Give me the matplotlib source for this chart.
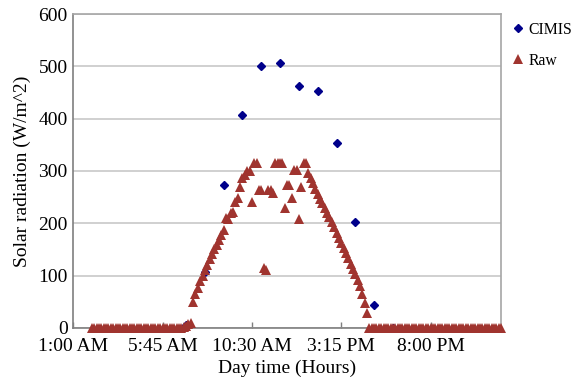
import matplotlib
matplotlib.use('Agg')
import matplotlib.pyplot as plt
import numpy as np

plt.rcParams['font.family'] = ['Liberation Serif', 'DejaVu Serif']

# Hourly CIMIS station readings (hour of day, W/m^2)
cimis_hours = [7, 8, 9, 10, 11, 12, 13, 14, 15, 16, 17, 18]
cimis_values = [5, 107, 274, 407, 501, 506, 463, 452, 354, 202, 44, 0]

# Raw sensor log, one sample every 7.5 minutes starting at 2:00 AM
raw_start_hour = 2.0
raw_step_min = 7.5
raw_values = [
    0, 0, 0, 0, 0, 0, 0, 0, 0, 0, 0, 0, 0, 0, 0, 0, 0, 0, 0, 0,
    0, 0, 0, 0, 0, 0, 0, 0, 0, 0, 0, 0, 0, 0, 0, 0, 0, 0, 0,
    2, 4, 7, 10,
    50, 64, 77, 89, 100, 111, 121, 131, 141, 150, 159, 168, 177, 187,
    210, 208, 219, 222, 241, 248, 270, 286, 292, 299, 299, 241,
    316, 316, 264, 264, 114, 111, 264, 264, 257,
    316, 316, 316, 316, 229, 273, 273, 248, 302, 302, 208, 270, 315, 315,
    296, 286, 276, 265, 255, 247, 239, 230, 220, 211, 202, 192, 181, 171,
    162, 152, 143, 133, 122, 113, 103, 92, 80, 64, 48, 28,
    0, 0, 0, 0, 0, 0, 0, 0, 0, 0, 0, 0, 0, 0, 0, 0, 0, 0, 0, 0,
    0, 0, 0, 0, 0, 0, 0, 0, 0, 0, 0, 0, 0, 0, 0, 0, 0, 0, 0, 0,
    0, 0, 0, 0, 0, 0, 0, 0, 0, 0, 0, 0, 0, 0, 0, 0, 0,
]
raw_hours = raw_start_hour + np.arange(len(raw_values)) * raw_step_min / 60.0

x_ticks = [1.0, 5.75, 10.5, 15.25, 20.0]
x_tick_labels = ['1:00 AM', '5:45 AM', '10:30 AM', '3:15 PM', '8:00 PM']
y_ticks = [0, 100, 200, 300, 400, 500, 600]

fig = plt.figure(figsize=(5.72, 3.79), dpi=100)
ax = fig.add_axes([0.128, 0.135, 0.748, 0.828])

ax.plot(cimis_hours, cimis_values, linestyle='none', marker='D', markersize=4.5,
        color='#00008b', label='CIMIS', zorder=3, clip_on=False)
ax.plot(raw_hours, raw_values, linestyle='none', marker='^', markersize=7.4,
        color='#a0342f', markeredgewidth=0, label='Raw', zorder=4, clip_on=False)

ax.set_xlim(1.0, 23.75)
ax.set_ylim(0, 600)
ax.set_xticks(x_ticks)
ax.set_xticklabels(x_tick_labels)
ax.set_yticks(y_ticks)

ax.yaxis.grid(True, color='#c8c8c8', linewidth=1.2)
ax.set_axisbelow(True)

for side in ['top', 'right']:
    ax.spines[side].set_color('#a6a6a6')
    ax.spines[side].set_linewidth(1.2)
for side in ['left', 'bottom']:
    ax.spines[side].set_color('#7f7f7f')
    ax.spines[side].set_linewidth(1.2)

ax.tick_params(axis='x', direction='in', length=4, width=1, color='#7f7f7f',
               labelsize=14, pad=7)
ax.tick_params(axis='y', length=0, labelsize=14, pad=4)

ax.set_xlabel('Day time (Hours)', fontsize=14, labelpad=4)
ax.set_ylabel('Solar radiation (W/m^2)', fontsize=14, labelpad=5)

ax.legend(loc='upper left', bbox_to_anchor=(1.003, 1.005), frameon=False,
          fontsize=11.3, handlelength=0.8, handletextpad=0.25, labelspacing=0.95,
          borderaxespad=0.2)

fig.savefig('out.png', dpi=100)
plt.close(fig)
